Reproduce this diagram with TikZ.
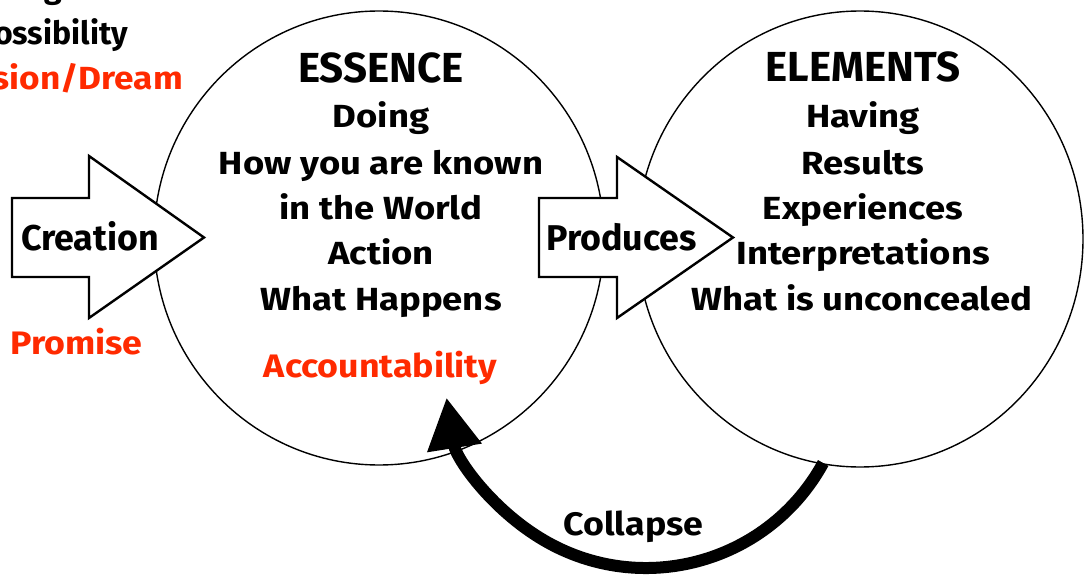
\documentclass[tikz,border=0pt]{standalone}
\usepackage{fontspec}
\setmainfont{Fira Sans}
\newfontfamily\widesans{Fira Sans}[FakeStretch=1.14]
\newfontfamily\midsans{Fira Sans}[FakeStretch=1.10]
\usetikzlibrary{arrows.meta,shapes.geometric,calc}
\definecolor{accent}{RGB}{255,42,0}
\begin{document}
\begin{tikzpicture}[x=1pt,y=-1pt,
  ring/.style={draw, ellipse, line width=1.4pt, inner sep=0pt},
  blockarrow/.style={draw, fill=white, line width=2.4pt, line join=miter},
  body/.style={anchor=base, inner sep=0pt, font=\widesans\bfseries\fontsize{32}{38}\selectfont},
  title/.style={anchor=base, inner sep=0pt, font=\bfseries\fontsize{42}{48}\selectfont},
  arrowtext/.style={anchor=base, inner sep=0pt, font=\bfseries\fontsize{35.8}{40}\selectfont},
  note/.style={anchor=base, inner sep=0pt, text=accent, font=\midsans\bfseries\fontsize{32.5}{38}\selectfont},
  side/.style={anchor=base east, inner sep=0pt, font=\bfseries\fontsize{32}{38}\selectfont},
  collapse/.style={line width=12pt, -{Triangle[length=51pt,width=52pt]}}
]
\useasboundingbox (0,0) rectangle (1084,575);
\clip (0,0) rectangle (1084,575);

% the two circles
\node[ring, minimum width=450, minimum height=454] (essence) at (379,238) {};
\node[ring, minimum width=446, minimum height=456] (elements) at (860,239) {};

% block arrows
\draw[blockarrow] (12,198) -- (89,198) -- (89,156) -- (204,237.5) -- (89,318) -- (89,277) -- (12,277) -- cycle;
\draw[blockarrow] (539,198) -- (617,198) -- (617,157) -- (733,237.5) -- (617,318) -- (617,277) -- (539,277) -- cycle;
\node[arrowtext] (creation) at (90,250) {Creation};
\node[arrowtext] (produces) at (621.5,250) {Produces};

% column running off the left edge
\node[side] (being) at (62,-1.5) {Being};
\node[side] (possibility) at (128,45) {Possibility};
\node[side, text=accent, font=\midsans\bfseries\fontsize{32}{38}\selectfont] (vision) at (183,90) {Vision/Dream};
\node[note] (promise) at (76.5,354) {Promise};

% essence circle
\node[title] (essence-title) at (381,83) {ESSENCE};
\node[body] (e1) at (381,128) {Doing};
\node[body] (e2) at (381,174) {How you are known};
\node[body] (e3) at (381,219) {in the World};
\node[body] (e4) at (381,264) {Action};
\node[body] (e5) at (381,310) {What Happens};
\node[note] (accountability) at (380.5,377) {Accountability};

% elements circle
\node[title] (elements-title) at (863,82) {ELEMENTS};
\node[body] (r1) at (863,128) {Having};
\node[body] (r2) at (863,174) {Results};
\node[body] (r3) at (863,219) {Experiences};
\node[body] (r4) at (863,264) {Interpretations};
\node[body] (r5) at (862,310) {What is unconcealed};

% collapse arc from the elements circle back into the essence circle
\coordinate (collapse-start) at ($(elements.center)+(-36.8,224)$);
\draw[collapse] (collapse-start) arc[start angle=28.7, end angle=171, radius=202];
\node[note, text=black] (collapse-label) at (633.5,535) {Collapse};
\end{tikzpicture}
\end{document}
